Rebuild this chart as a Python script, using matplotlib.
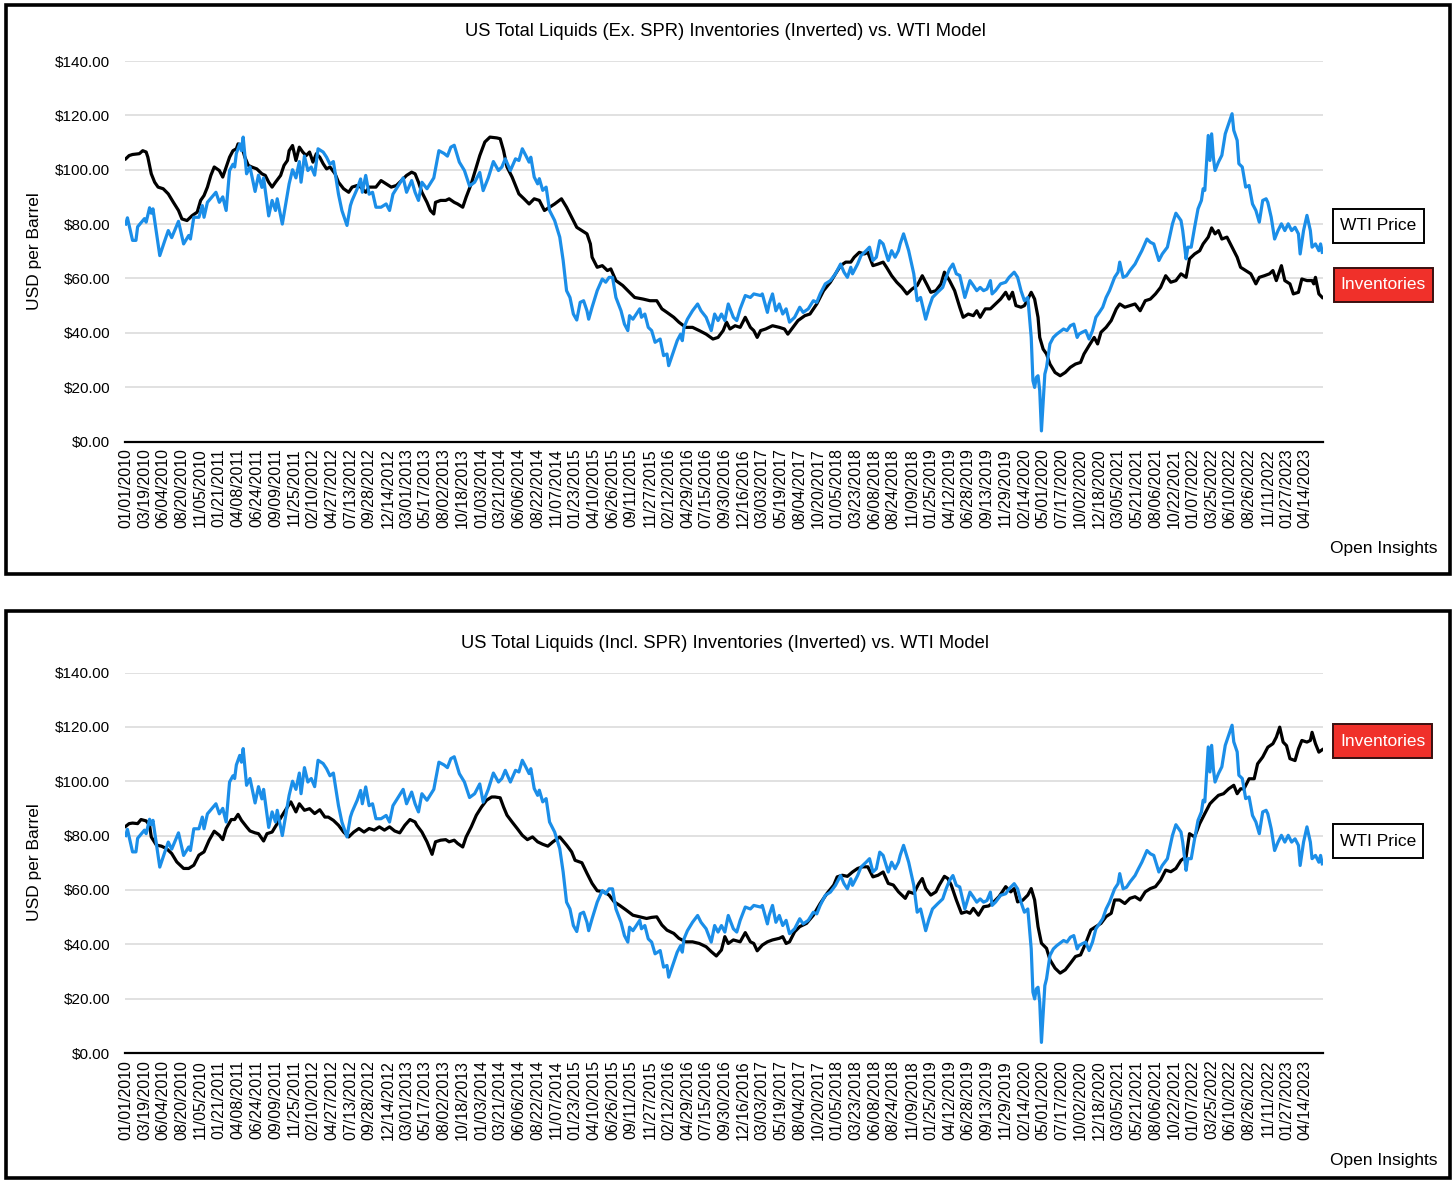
import matplotlib
matplotlib.use("Agg")
import matplotlib.pyplot as plt
from matplotlib.patches import Rectangle
import numpy as np
import pandas as pd

plt.rcParams['font.family'] = ['Liberation Sans', 'DejaVu Sans']

# ---------------- data ----------------
start_date = "2010-01-01"
n_weeks = 704            # weekly observations 01/01/2010 ... 06/23/2023
tick_every = 11          # a date label every 11 weeks

# WTI price (same series in both charts): week index since 01/01/2010, USD/bbl
wti_weeks = [0, 1, 4, 6, 7, 11, 12, 14, 15, 16, 20, 23, 25, 27, 31, 34, 37, 38, 40, 43, 45, 46, 48, 53, 55, 57, 59,
             61, 63, 64, 65, 67, 68, 69, 71, 73, 76, 78, 80, 81, 84, 86, 88, 89, 92, 96, 98, 100, 102, 103, 105, 107,
             109, 111, 113, 116, 118, 120, 122, 125, 127, 130, 132, 133, 136, 138, 139, 141, 143, 145, 147, 150, 153,
             155, 157, 160, 163, 165, 168, 170, 172, 174, 177, 181, 184, 187, 189, 191, 193, 196, 199, 202, 205, 208,
             210, 213, 216, 219, 221, 223, 226, 229, 231, 233, 235, 237, 238, 240, 242, 243, 245, 247, 249, 252, 255,
             257, 259, 261, 263, 265, 267, 269, 271, 272, 274, 277, 280, 282, 284, 286, 288, 291, 293, 295, 296, 298,
             300, 302, 303, 305, 307, 309, 311, 314, 316, 318, 319, 321, 324, 326, 327, 328, 330, 333, 336, 338, 341,
             344, 346, 348, 350, 352, 354, 357, 359, 361, 364, 367, 369, 373, 374, 377, 378, 380, 382, 384, 386, 388,
             390, 393, 396, 398, 401, 404, 406, 408, 411, 414, 417, 420, 422, 424, 426, 427, 430, 432, 435, 437, 439,
             441, 443, 445, 448, 450, 452, 454, 455, 457, 460, 463, 465, 467, 470, 472, 474, 477, 480, 482, 484, 486,
             488, 490, 493, 496, 498, 500, 502, 504, 506, 508, 509, 511, 514, 517, 519, 522, 524, 526, 528, 530, 531,
             532, 533, 534, 535, 536, 537, 538, 540, 541, 543, 545, 547, 551, 553, 555, 557, 559, 560, 562, 564, 566,
             568, 570, 572, 574, 576, 578, 581, 583, 584, 586, 588, 590, 593, 595, 597, 600, 602, 604, 607, 609, 612,
             615, 617, 620, 621, 623, 624, 626, 628, 630, 632, 633, 634, 636, 637, 638, 639, 640, 642, 644, 646, 648,
             650, 651, 653, 654, 656, 658, 660, 662, 664, 666, 668, 670, 671, 673, 675, 677, 679, 681, 683, 685, 687,
             689, 690, 692, 694, 696, 697, 699, 701, 702, 703]
wti_values = [80, 82.3, 74, 74, 79, 82, 80.7, 86, 84, 85.6, 68.4, 74, 77.6, 75, 81, 72.7, 75.8, 74.5, 82.5, 82.5, 86.8,
              82.5, 88, 91.7, 88, 90, 85, 99.7, 102, 101, 106, 109.5, 107, 112, 98.5, 101, 92, 98, 93.5, 97, 83, 88.7,
              85, 89.3, 80, 94.8, 100, 97, 103, 95.4, 105, 99.7, 101, 98, 107.7, 106.5, 104.6, 102, 103, 91, 85, 79.5,
              86.8, 88.7, 93, 96.6, 91.7, 97.9, 91, 91.7, 86.2, 86.2, 87.4, 85, 91, 94, 97, 91.7, 96, 91.7, 88.7, 95.4,
              93, 97, 107, 106, 105, 108.3, 109, 102.8, 99.7, 94, 95.4, 99, 92.3, 97, 103, 99.7, 101, 104, 99.7, 104,
              103.4, 107.7, 105.3, 102.8, 104.6, 97.3, 94.8, 96.7, 92.4, 93.6, 85, 81.3, 75.2, 66.6, 55.5, 53, 46.9,
              44.7, 51.2, 51.8, 48.1, 45, 49.4, 55.5, 59.8, 58.6, 60.4, 60.4, 53, 48.1, 43.2, 40.8, 46.3, 45, 46.9,
              48.8, 45.7, 46.9, 42, 40.8, 36.5, 37.7, 31.6, 32.2, 27.9, 31.6, 37.1, 39.5, 37.1, 42, 45, 48.1, 50.6,
              48.1, 45.7, 40.8, 46.9, 44.5, 46.9, 44.5, 50.6, 45.7, 44.5, 48.8, 53.7, 53, 54.3, 53.7, 54.3, 47.5, 50.6,
              54.3, 48.1, 50.6, 46.9, 48.8, 43.9, 45.7, 49.4, 47.5, 48.8, 51.8, 51.2, 54.3, 58, 59.2, 61.7, 65.3, 62.3,
              60.4, 64.1, 61.7, 65.3, 68.4, 70.2, 71.5, 66.6, 67.8, 73.9, 72.7, 66.6, 70.2, 67.8, 70.2, 72.7, 76.4,
              70.2, 61.7, 51.8, 53, 45, 49.4, 53, 54.9, 56.7, 60.4, 63.5, 65.3, 61.7, 61.1, 53, 59.2, 57.4, 55.5, 56.7,
              55.5, 56.1, 59.2, 54.3, 55.5, 58, 58.6, 60.4, 62.3, 60.4, 55.5, 51.8, 53, 45.7, 38.3, 22.4, 19.9, 23.6,
              24.2, 18.7, 3.9, 24.8, 27.3, 35.9, 38.3, 39.5, 41.4, 40.8, 42.6, 43.2, 38.3, 39.5, 40.2, 40.8, 37.7, 40.8,
              45.7, 47.5, 49.4, 53, 55.5, 60.4, 62.3, 66, 60.4, 61, 62.9, 65.3, 67.8, 70.2, 74.5, 73.3, 72.7, 66.6, 69,
              71.5, 80.1, 84, 81.3, 77.6, 67.2, 71.5, 71.5, 78.8, 85.6, 88.7, 93, 92.4, 112.6, 103.4, 113.2, 104.6,
              99.7, 102.8, 105.3, 113.2, 116.9, 120.6, 114.5, 110.8, 102.2, 101, 93.6, 94.2, 87.4, 85, 80.7, 88.7,
              89.3, 88, 82.5, 74.5, 77.6, 80.1, 77.6, 80.1, 77.6, 78.8, 76.4, 69, 77.6, 83.2, 77.6, 71.5, 72.7, 70.2,
              72.7, 69.6]

# Inventories model, total liquids ex. SPR (inverted), USD/bbl
inv_ex_weeks = [0, 2, 4, 8, 10, 12, 13, 15, 17, 19, 22, 25, 28, 31, 33, 36, 39, 42, 44, 46, 48, 50, 52, 55, 57, 59,
                61, 63, 65, 66, 68, 70, 72, 74, 77, 80, 82, 84, 86, 88, 91, 93, 95, 96, 98, 100, 102, 104, 106, 108,
                110, 112, 114, 116, 118, 120, 123, 125, 128, 131, 133, 136, 138, 141, 143, 147, 150, 153, 156, 159,
                162, 165, 168, 170, 172, 174, 177, 179, 181, 182, 185, 188, 190, 193, 195, 198, 200, 203, 206, 208,
                211, 214, 218, 220, 222, 224, 227, 231, 234, 237, 240, 243, 246, 249, 252, 256, 259, 262, 265, 268,
                271, 273, 274, 277, 280, 283, 285, 288, 292, 296, 299, 304, 308, 312, 315, 318, 322, 325, 329, 333,
                337, 341, 345, 348, 351, 353, 355, 358, 361, 364, 367, 369, 371, 373, 376, 380, 384, 387, 389, 392,
                395, 399, 402, 406, 410, 414, 417, 420, 423, 426, 428, 431, 434, 436, 439, 442, 445, 447, 450, 453,
                456, 459, 462, 465, 468, 471, 473, 476, 479, 481, 484, 487, 490, 492, 495, 498, 500, 502, 505, 508,
                511, 514, 517, 519, 521, 523, 526, 528, 530, 532, 534, 536, 537, 539, 541, 543, 546, 549, 552, 555,
                558, 561, 563, 566, 569, 571, 573, 576, 579, 582, 584, 587, 590, 593, 596, 599, 602, 605, 608, 611,
                614, 617, 620, 623, 625, 628, 631, 633, 636, 638, 640, 642, 644, 647, 650, 653, 655, 658, 661, 664,
                666, 669, 672, 674, 676, 679, 681, 684, 686, 689, 691, 694, 697, 698, 699, 701, 703]
inv_ex_values = [104, 105.2, 105.6, 105.9, 107, 106.5, 104.6, 98.5, 95.4, 93.6, 93, 91.1, 88, 85, 81.9, 81.3, 83.1,
                 84.4, 88.7, 90.5, 93.6, 97.9, 101, 99.7, 97.3, 101, 104.6, 107, 107.7, 109.5, 108.9, 104.6, 101.6,
                 101, 100.3, 98.5, 97.9, 95.4, 93.6, 95.4, 97.9, 101.6, 103.4, 107, 108.9, 103.4, 108.3, 106.5, 105.2,
                 106.5, 102.8, 105.9, 104.6, 102.2, 100.3, 101, 98.5, 95.4, 93, 91.7, 93.6, 94.2, 93.6, 91.7, 93.6,
                 93.6, 96, 94.8, 93.6, 94.2, 96, 97.9, 99.1, 98.5, 95.4, 91.7, 88, 85, 83.7, 88, 88.7, 88.7, 89.3, 88,
                 87.4, 86.2, 89.9, 94.8, 101, 105.2, 110.2, 112, 111.7, 111.4, 107, 101, 97.3, 91.1, 89.3, 87.4, 89.3,
                 88.7, 85, 86.2, 87.4, 89.3, 86.2, 82.5, 78.8, 77.6, 76.4, 72.7, 67.8, 64.1, 64.7, 62.9, 63.5, 59.2,
                 57.4, 54.9, 53, 52.4, 51.8, 51.8, 48.8, 47.5, 45.7, 43.9, 42, 42, 40.8, 39.5, 37.7, 38.3, 40.8, 43.9,
                 41.4, 42.6, 42, 45.7, 42, 40.8, 38.3, 40.8, 41.4, 42.6, 42, 41.4, 39.5, 42, 44.5, 46.3, 46.9, 50.6,
                 55.5, 58.6, 61.7, 64.7, 66, 66, 67.8, 69.6, 69, 69.6, 64.7, 65.3, 66, 64.1, 61, 58.6, 56.7, 54.3,
                 56.1, 57.4, 61, 57.4, 54.9, 55.5, 58, 62.3, 59.2, 55.5, 49.4, 45.7, 46.9, 46.3, 48.1, 45.7, 48.8,
                 48.8, 50.6, 52.4, 54.9, 52.4, 54.9, 50, 49.4, 50, 52.4, 54.9, 52.4, 45.7, 38.3, 34, 32.2, 28.5, 25.4,
                 24.2, 25.4, 27.3, 28.5, 29.1, 32.2, 35.3, 38.3, 35.9, 40.2, 42, 44.5, 48.8, 50.6, 49.4, 50, 50.6,
                 48.1, 51.8, 52.4, 54.3, 56.7, 61, 58.6, 59.2, 61.7, 60.4, 67.2, 69, 70.2, 72.7, 75.2, 78.6, 76.4,
                 77.6, 74.5, 75.2, 71.5, 67.8, 64.1, 62.9, 61.7, 58, 60.4, 61, 61.7, 62.9, 59.2, 64.7, 59.2, 58, 54.3,
                 54.9, 59.8, 59.2, 59.2, 58, 60.4, 54.3, 53]

# Inventories model, total liquids incl. SPR (inverted), USD/bbl
inv_incl_weeks = [0, 2, 4, 7, 9, 12, 14, 15, 18, 21, 24, 27, 30, 34, 37, 40, 43, 46, 49, 52, 55, 57, 59, 62, 64, 66,
                  68, 71, 73, 76, 78, 81, 83, 86, 89, 92, 95, 97, 100, 102, 105, 108, 111, 114, 117, 119, 122, 125,
                  128, 131, 134, 137, 140, 143, 146, 149, 152, 155, 158, 161, 164, 167, 170, 171, 174, 177, 180, 182,
                  185, 188, 190, 193, 195, 198, 200, 203, 206, 209, 212, 215, 217, 220, 222, 224, 227, 230, 233, 236,
                  239, 242, 245, 248, 251, 255, 259, 262, 264, 268, 271, 274, 277, 281, 284, 287, 290, 294, 298, 302,
                  306, 309, 312, 315, 318, 322, 325, 329, 333, 337, 341, 344, 347, 350, 352, 354, 357, 361, 364, 367,
                  369, 371, 374, 377, 380, 384, 386, 388, 390, 393, 396, 400, 404, 408, 412, 416, 418, 421, 424, 427,
                  430, 433, 436, 439, 442, 445, 448, 451, 454, 458, 460, 463, 466, 468, 470, 473, 476, 478, 481, 483,
                  485, 488, 491, 494, 496, 498, 501, 504, 507, 510, 513, 515, 517, 520, 522, 524, 527, 530, 532, 534,
                  536, 538, 541, 543, 546, 549, 552, 555, 558, 561, 564, 567, 570, 573, 576, 579, 581, 584, 587, 590,
                  593, 596, 599, 602, 605, 608, 611, 614, 617, 620, 623, 625, 628, 631, 634, 637, 639, 642, 645, 648,
                  651, 653, 655, 657, 660, 663, 665, 668, 671, 674, 676, 678, 680, 682, 684, 687, 689, 691, 694, 696,
                  697, 699, 701, 703]
inv_incl_values = [83.4, 84.4, 84.6, 84.4, 85.9, 85.4, 83.8, 79.5, 76.5, 76.1, 75.2, 73.4, 70.3, 67.9, 67.9, 69.1,
                   72.8, 74, 78.3, 81.6, 80.1, 78.5, 82.6, 85.9, 85.9, 87.8, 85.6, 83.2, 81.7, 81, 80.7, 78, 80.7,
                   81.3, 84.4, 87.5, 90.5, 92.4, 88.7, 91.7, 89.3, 89.9, 88.1, 89.5, 86.8, 86.8, 85.6, 83.8, 81.3,
                   79.5, 81.3, 82.6, 81.3, 82.6, 82, 83.2, 82, 83.2, 81.7, 81, 83.8, 85.9, 85, 83.8, 81.3, 77.7, 73.1,
                   77.7, 78.3, 78.5, 77.7, 78.3, 77.1, 75.8, 79.5, 83.2, 87.5, 90.5, 93, 94.2, 94.2, 93.9, 90.5, 87.5,
                   85, 82.6, 80.1, 78.5, 79.5, 77.7, 76.8, 76.1, 77.7, 79.5, 76.5, 74, 70.9, 70, 66.1, 62.4, 59.7,
                   59.3, 58.1, 55.6, 54.4, 52.6, 50.7, 50.1, 49.5, 49.9, 50.1, 47.1, 45.2, 44, 42.2, 40.9, 40.9, 40.3,
                   39.1, 37.3, 35.7, 37.9, 42.8, 40.3, 41.6, 40.9, 44.3, 40.9, 40.3, 37.6, 39.7, 40.9, 41.6, 42.2,
                   42.8, 40.3, 40.9, 44.6, 46.5, 47.7, 50.7, 55, 58.7, 61.8, 64.8, 65.4, 65, 66.6, 67.9, 68.5, 68.5,
                   64.8, 65.4, 66.6, 62.4, 61.8, 59.3, 56.9, 59.3, 58.7, 62.4, 64.2, 60.5, 58.1, 59.3, 61.8, 65, 64.2,
                   61.8, 56.3, 51.4, 52, 51.4, 53.2, 50.7, 53.8, 54.1, 55.6, 57.5, 59.3, 61.2, 59.3, 60.5, 55.6, 56.2,
                   58.1, 60.5, 56.3, 46.5, 40.4, 38.5, 34.3, 31.2, 29.4, 30.6, 33, 35.5, 36.1, 40.4, 45.3, 46.5, 47.7,
                   50.2, 51.4, 56.3, 56.3, 55, 56.9, 57.5, 56.3, 59.3, 60.5, 61.2, 63.6, 67.3, 66.7, 67.9, 70.9, 72.2,
                   80.7, 79.5, 84.4, 88.1, 91.7, 93, 94.8, 95.4, 97.2, 98.5, 95.4, 97.2, 97.2, 100.9, 100.9, 106.4,
                   108.9, 112.5, 113.8, 116.2, 119.9, 114.4, 113.1, 108.3, 107.6, 111.9, 115, 114.4, 115, 118, 113.8,
                   110.7, 111.6]

y_ticks = [0, 20, 40, 60, 80, 100, 120, 140]

titles = ["US Total Liquids (Ex. SPR) Inventories (Inverted) vs. WTI Model",
          "US Total Liquids (Incl. SPR) Inventories (Inverted) vs. WTI Model"]
credit = "Open Insights"
y_label = "USD per Barrel"

# ---------------- drawing ----------------
W, H = 1456, 1185
fig = plt.figure(figsize=(W / 100, H / 100), dpi=100)
fig.patch.set_facecolor("white")

BLUE = "#1b8ee8"
RED = "#f0302a"

t0 = pd.Timestamp(start_date)
def to_dates(weeks):
    return t0 + pd.to_timedelta(np.asarray(weeks) * 7, unit="D")

tick_weeks = np.arange(0, n_weeks, tick_every)
tick_dates = to_dates(tick_weeks)
tick_labels = [d.strftime("%m/%d/%Y") for d in tick_dates]

def px_rect(x0, y0, x1, y1, **kw):
    r = Rectangle((x0 / W, 1 - y1 / H), (x1 - x0) / W, (y1 - y0) / H,
                  transform=fig.transFigure, **kw)
    fig.add_artist(r)
    return r

def box_label(x0, y0, x1, y1, text, face, tcolor, ecolor):
    px_rect(x0, y0, x1, y1, facecolor=face, edgecolor=ecolor, lw=1.4, zorder=5)
    fig.text((x0 + x1) / 2 / W, 1 - (y0 + y1) / 2 / H, text, ha="center", va="center",
             fontsize=12.5, color=tcolor, zorder=6)

def panel(frame, top_px, inv_weeks, inv_values, title, legend_order):
    fx0, fy0, fx1, fy1 = frame
    px_rect(fx0, fy0, fx1, fy1, facecolor="none", edgecolor="black", lw=2.6, zorder=10)
    y_top = top_px
    y_bot = top_px + 380.5
    ax = fig.add_axes([125 / W, 1 - y_bot / H, 1198 / W, (y_bot - y_top) / H])
    ax.plot(to_dates(inv_weeks), inv_values, color="black", lw=2.3, solid_joinstyle="round", zorder=3)
    ax.plot(to_dates(wti_weeks), wti_values, color=BLUE, lw=2.3, solid_joinstyle="round", zorder=4)
    ax.set_ylim(0, 140)
    ax.set_xlim(t0 - pd.Timedelta(days=3), to_dates([n_weeks - 1])[0] + pd.Timedelta(days=3))
    ax.set_yticks(y_ticks)
    ax.set_yticklabels([f"${v:.2f}" for v in y_ticks], fontsize=11)
    ax.set_xticks(tick_dates)
    ax.set_xticklabels(tick_labels, rotation=90, fontsize=11.5, va="top", ha="center")
    ax.tick_params(axis="both", length=0)
    ax.tick_params(axis="y", pad=10.5)
    ax.tick_params(axis="x", pad=5)
    ax.grid(axis="y", color="#dcdcdc", lw=1.2)
    ax.set_axisbelow(True)
    for s in ["left", "right", "top"]:
        ax.spines[s].set_visible(False)
    ax.spines["bottom"].set_color("black")
    ax.spines["bottom"].set_linewidth(1.6)
    ax.spines["bottom"].set_zorder(5)
    # texts
    fig.text(725 / W, 1 - (top_px - 29) / H, title, ha="center", va="center", fontsize=13.2)
    fig.text(35 / W, 1 - (top_px + 190) / H, y_label, rotation=90, ha="center", va="center", fontsize=12.5)
    fig.text(1437 / W, 1 - (top_px + 488) / H, credit, ha="right", va="center", fontsize=12.5)
    for (x0, y0, x1, y1), kind in legend_order:
        if kind == "wti":
            box_label(x0, top_px + y0, x1, top_px + y1, "WTI Price", "white", "black", "black")
        else:
            box_label(x0, top_px + y0, x1, top_px + y1, "Inventories", RED, "white", "#3a1010")
    return ax

panel((6, 5, 1450, 574), 61, inv_ex_weeks, inv_ex_values, titles[0],
      [((1333, 148, 1424, 182), "wti"), ((1334, 207, 1433, 241), "inv")])
panel((6, 611, 1450, 1178), 672.5, inv_incl_weeks, inv_incl_values, titles[1],
      [((1333, 51.5, 1432, 85.5), "inv"), ((1333, 151.5, 1423, 185.5), "wti")])

fig.savefig("out.png", dpi=100, facecolor="white")
